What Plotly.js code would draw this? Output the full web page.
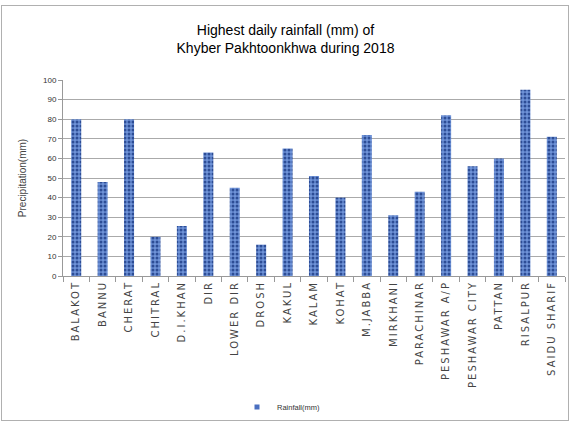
<!DOCTYPE html>
<html><head><meta charset="utf-8">
<script src="https://cdn.plot.ly/plotly-3.0.1.min.js"></script>
<style>
html,body{margin:0;padding:0;background:#fff;}
#frame{position:absolute;left:0;top:0;width:571px;height:423px;}
#border{position:absolute;left:1px;top:5px;width:566px;height:414px;border:1px solid #b0b0b0;pointer-events:none;}
#frame .xtick text{letter-spacing:2px;}
</style>
</head><body>
<div id="frame"></div>
<div id="border"></div>
<script>
const stations = ["BALAKOT","BANNU","CHERAT","CHITRAL","D.I.KHAN","DIR","LOWER DIR","DROSH","KAKUL","KALAM","KOHAT","M.JABBA","MIRKHANI","PARACHINAR","PESHAWAR A/P","PESHAWAR CITY","PATTAN","RISALPUR","SAIDU SHARIF"];
const rainfall = [80,48,80,20,25.5,63,45,16,65,51,40,72,31,43,82,56,60,95,71];
const yTicks = [0,10,20,30,40,50,60,70,80,90,100];
const seriesName = 'Rainfall(mm)';

const trace = {
  type: 'bar',
  x: stations,
  y: rainfall,
  name: seriesName,
  marker: {
    color: '#6f93d8',
    line: {width: 0},
    pattern: {shape: '.', fgcolor: '#2d4d96', bgcolor: '#6f93d8', size: 4, solidity: 0.45}
  },
  showlegend: false
};
// legend entry only (small square key like the reference)
const legendKey = {
  type: 'scatter', mode: 'markers', x: [null], y: [null], name: seriesName,
  marker: {symbol: 'square', size: 5, color: '#4a6fc0'},
  showlegend: true
};

const layout = {
  width: 571, height: 423,
  margin: {l: 63, r: 6, t: 80, b: 147},
  paper_bgcolor: '#ffffff', plot_bgcolor: '#ffffff',
  bargap: 0.62,
  title: {
    text: 'Highest daily rainfall (mm) of<br>Khyber Pakhtoonkhwa during 2018',
    x: 0.5, xanchor: 'center', y: 0.917, yanchor: 'top',
    font: {family: 'Liberation Sans, Arial, sans-serif', size: 14, color: '#000'}
  },
  xaxis: {
    type: 'category',
    automargin: false,
    tickangle: -90,
    tickfont: {family: 'DejaVu Sans, sans-serif', size: 10, color: '#444'},
    ticks: 'outside', ticklen: 5, tickcolor: '#999', tickson: 'boundaries',
    showline: true, linecolor: '#999', linewidth: 1,
    showgrid: false
  },
  yaxis: {
    automargin: false,
    range: [0, 100],
    tickvals: yTicks,
    ticktext: yTicks.map(String),
    tickfont: {family: 'Liberation Sans, sans-serif', size: 8, color: '#333'},
    ticks: 'outside', ticklen: 4, tickcolor: '#999',
    showline: true, linecolor: '#999', linewidth: 1,
    showgrid: true, gridcolor: '#aaaaaa', gridwidth: 1,
    zeroline: false,
    title: {text: 'Precipitation(mm)', standoff: 14,
      font: {family: 'Liberation Sans, sans-serif', size: 10, color: '#444'}}
  },
  legend: {
    orientation: 'h', xref: 'container', x: 0.493, xanchor: 'center',
    yref: 'container', y: 0.038, yanchor: 'middle',
    font: {family: 'Liberation Sans, sans-serif', size: 7.5, color: '#333'},
    itemwidth: 30
  }
};

Plotly.newPlot('frame', [trace, legendKey], layout, {displayModeBar: false, staticPlot: true});
</script>
</body></html>
